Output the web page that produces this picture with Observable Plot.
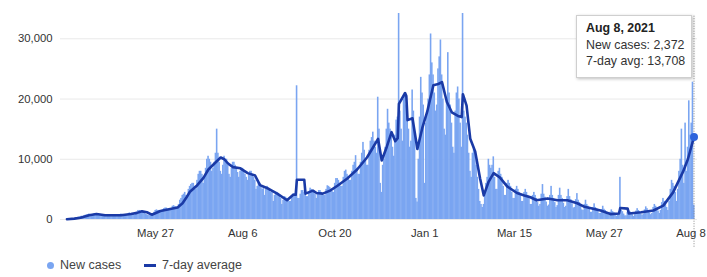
<!DOCTYPE html>
<html>
<head>
<meta charset="utf-8">
<script src="https://cdn.jsdelivr.net/npm/d3@7"></script>
<script src="https://cdn.jsdelivr.net/npm/@observablehq/plot@0.6"></script>
<style>
  html, body { margin: 0; padding: 0; background: #fff; }
  #wrap { position: relative; width: 707px; height: 277px; font-family: "Liberation Sans", Arial, sans-serif; overflow: hidden; }
  #tip { position: absolute; left: 576px; top: 15px; width: 105px; height: 55px; padding: 4px 0 2px 9px; background: #fff;
         border: 1px solid #cfcfcf; box-shadow: 1px 1px 3px rgba(0,0,0,0.25); font-size: 12.4px; line-height: 16.5px; color: #333; white-space: nowrap; }
  #tip b { color: #222; }
  #legend { position: absolute; left: 0; top: 256px; height: 18px; width: 707px; font-size: 12.5px; color: #444; }
  .lg { position: absolute; top: 0; line-height: 18px; }
  .sw-dot { position: absolute; width: 7px; height: 7px; border-radius: 50%; background: #7aa5f1; top: 5.5px; }
  .sw-line { position: absolute; width: 12px; height: 2.5px; background: #1a3aa6; top: 8px; }
</style>
</head>
<body>
<div id="wrap"></div>
<script>
// ---- data ----
const startDate = "2020-03-16";
const newCases = [
  20, 30, 50, 60, 100, 130, 150,
  200, 300, 350, 400, 500, 550, 500,
  600, 700, 750, 800, 900, 850, 700,
  700, 900, 1000, 1000, 900, 800, 700,
  600, 700, 800, 750, 700, 650, 600,
  550, 700, 800, 800, 750, 700, 650,
  600, 800, 900, 850, 800, 700, 600,
  700, 900, 1100, 1000, 1000, 900, 700,
  900, 1200, 1500, 1500, 1400, 1300, 1200,
  1000, 900, 800, 700, 700, 800, 700,
  1000, 1200, 1500, 1600, 1500, 1500, 1400,
  1300, 1600, 1800, 1900, 1900, 1700, 1600,
  1500, 1800, 2200, 2300, 2100, 2100, 2000,
  2500, 3200, 3500, 4000, 4200, 4500, 4000,
  4000, 5000, 5500, 5800, 6000, 6000, 5500,
  5000, 6500, 7500, 8000, 8000, 7500, 6000,
  7000, 8500, 10000, 10500, 10000, 9500, 8000,
  8500, 9500, 11000, 15000, 11000, 9500, 8000,
  7500, 9000, 10500, 10000, 10000, 9000, 7500,
  7000, 8500, 9500, 9500, 9000, 8500, 7800,
  7000, 8000, 8500, 8500, 8000, 7500, 7000,
  6500, 7500, 8000, 8000, 7500, 7000, 6500,
  5000, 5500, 6000, 6000, 5500, 5000, 5500,
  4000, 5000, 5500, 5000, 5000, 4500, 4500,
  3000, 4000, 4500, 4500, 4000, 3800, 3500,
  2500, 3200, 3800, 3700, 3500, 3300, 3000,
  3000, 3800, 4200, 4300, 4000, 22200, 3500,
  3500, 4200, 4800, 4800, 4500, 4200, 3800,
  3800, 4500, 5200, 5000, 4800, 4500, 4200,
  3500, 4200, 4800, 4800, 4500, 4200, 4000,
  4000, 5000, 5600, 5500, 5300, 5000, 4600,
  4500, 6000, 6800, 6800, 6500, 6000, 5500,
  5500, 7000, 8000, 8200, 7500, 7000, 6500,
  6500, 8000, 9000, 9500, 10600, 8500, 7500,
  7500, 9500, 11000, 12800, 11500, 10000, 9000,
  9000, 11500, 13000, 13600, 14500, 13000, 12000,
  11000, 20300, 15000, 6000, 4500, 9000, 10000,
  12000, 15000, 18300, 16000, 15000, 14000, 12000,
  10500, 14000, 16500, 17000, 36000, 18000, 15000,
  13000, 20000, 21000, 19000, 18000, 15000, 12000,
  13000, 21500, 18000, 14000, 3500, 2900, 10000,
  17000, 23600, 21000, 19000, 6000, 16000, 18000,
  20000, 24000, 30800, 26000, 24000, 21000, 18000,
  19000, 25000, 27000, 29800, 24000, 20000, 15000,
  14000, 20000, 27700, 21000, 19000, 16000, 12000,
  11000, 18000, 21000, 22000, 20000, 16000, 12000,
  36000, 18000, 17000, 16000, 14000, 11000, 8000,
  7000, 11000, 12000, 11000, 9000, 7000, 5000,
  3000, 2500, 2000, 2500, 4000, 6000, 7000,
  10000, 9000, 8500, 9000, 10400, 7000, 5000,
  5000, 8000, 8500, 7500, 7000, 5500, 4000,
  4000, 6000, 6500, 6000, 5500, 4500, 3500,
  3500, 5000, 5500, 5000, 4500, 4000, 3000,
  3000, 4500, 5000, 4500, 4000, 3500, 2500,
  2500, 4000, 4500, 4000, 3500, 2800, 2200,
  2500, 4200, 5800, 4200, 3700, 2900, 2200,
  2400, 4000, 5500, 4000, 3500, 2800, 2000,
  2300, 4000, 5200, 4000, 3500, 2700, 2000,
  2200, 3800, 5000, 3800, 3300, 2600, 1900,
  2000, 3300, 4300, 3200, 2800, 2200, 1600,
  1500, 2500, 3200, 2500, 2200, 1700, 1200,
  1200, 2000, 2600, 2000, 1800, 1400, 1000,
  1000, 1600, 2200, 1700, 1500, 1200, 800,
  700, 1200, 1600, 1300, 1100, 800, 500,
  800, 1300, 7000, 1500, 1300, 900, 600,
  600, 1200, 1500, 1300, 1100, 800, 500,
  800, 1400, 1800, 1500, 1300, 900, 700,
  900, 1600, 2100, 1800, 1500, 1100, 800,
  1000, 2000, 2500, 2200, 1900, 1400, 1000,
  1500, 2800, 3500, 3000, 2800, 2000, 1500,
  3000, 5000, 6500, 6000, 5500, 4500, 3000,
  5000, 8000, 10000, 15000, 9000, 6000, 16000,
  8000, 12000, 19700, 14000, 16000, 22800, 2372
];

const avgDates = [
  "2020-03-16","2020-03-22","2020-03-27","2020-04-03","2020-04-09","2020-04-16","2020-04-23","2020-04-29",
  "2020-05-07","2020-05-12","2020-05-16","2020-05-20","2020-05-24","2020-05-31","2020-06-08","2020-06-14",
  "2020-06-18","2020-06-21","2020-06-24","2020-06-30","2020-07-05","2020-07-09","2020-07-15","2020-07-19",
  "2020-07-22","2020-07-25","2020-07-29","2020-08-04","2020-08-10","2020-08-16","2020-08-20","2020-08-27",
  "2020-09-03","2020-09-11","2020-09-16","2020-09-18","2020-09-19","2020-09-25","2020-09-26","2020-10-02",
  "2020-10-05","2020-10-10","2020-10-16","2020-10-22","2020-10-30","2020-11-07","2020-11-15","2020-11-20",
  "2020-11-24","2020-11-27","2020-12-01","2020-12-05","2020-12-08","2020-12-10","2020-12-11","2020-12-16",
  "2020-12-17","2020-12-18","2020-12-22","2020-12-26","2020-12-30","2021-01-03","2021-01-08","2021-01-12",
  "2021-01-15","2021-01-19","2021-01-23","2021-01-28","2021-01-31","2021-02-01","2021-02-04","2021-02-07",
  "2021-02-11","2021-02-15","2021-02-18","2021-02-22","2021-02-26","2021-03-03","2021-03-09","2021-03-17",
  "2021-03-23","2021-03-28","2021-04-02","2021-04-11","2021-04-19","2021-04-27","2021-05-05","2021-05-11",
  "2021-05-24","2021-06-01","2021-06-08","2021-06-09","2021-06-15","2021-06-16","2021-06-26","2021-07-06",
  "2021-07-14","2021-07-22","2021-07-30","2021-08-03","2021-08-08"
];
const avgValues = [
  50, 150, 300, 700, 900, 700, 700, 700,
  900, 1100, 1350, 1200, 800, 1400, 1750, 2000,
  2700, 3600, 4600, 5700, 6900, 8300, 9500, 10300,
  10000, 9300, 8700, 8500, 7700, 7300, 5700, 5100,
  4300, 3200, 4100, 4100, 6600, 6600, 4300, 4800,
  4400, 4300, 4800, 5600, 6800, 8300, 10300, 12000,
  13400, 9800, 12000, 14500, 13000, 13500, 19200, 21000,
  20500, 16500, 16800, 11700, 15200, 17900, 22300, 22500,
  22800, 19500, 17800, 17200, 17000, 20800, 18900, 13400,
  11300, 6800, 4000, 6300, 7700, 7000, 5500, 4400,
  4000, 3700, 3200, 3500, 3200, 3200, 2700, 2100,
  1500, 900, 1000, 1900, 1800, 1000, 1200, 1500,
  2300, 4500, 7900, 10000, 13708
];

const xTickDates = ["2020-05-27","2020-08-06","2020-10-20","2021-01-01","2021-03-15","2021-05-27","2021-08-08"];
const xTickLabels = ["May 27","Aug 6","Oct 20","Jan 1","Mar 15","May 27","Aug 8"];
const yTicks = [0, 10000, 20000, 30000];
const seriesNames = ["New cases", "7-day average"];

// ---- build tables ----
const DAY = 864e5;
const t0 = Date.parse(startDate);
const daily = newCases.map((v, i) => ({date: new Date(t0 + i * DAY), cases: v}));
const avg = avgDates.map((d, i) => ({date: new Date(d), value: avgValues[i]}));
const last = daily[daily.length - 1];
const lastAvg = avg[avg.length - 1];
const xTicks = xTickDates.map((d, i) => ({date: new Date(d), label: xTickLabels[i]}));

const barColor = "#7aa5f1";
const lineColor = "#1a3aa6";
const tickFont = 11.3;

const chart = Plot.plot({
  width: 707,
  height: 250,
  marginTop: 13,
  marginBottom: 31,
  marginLeft: 60,
  marginRight: 10,
  style: {fontFamily: '"Liberation Sans", Arial, sans-serif', fontSize: tickFont + "px", color: "#333", background: "#fff", overflow: "visible"},
  x: {
    type: "utc",
    domain: [new Date("2020-03-10T17:31:00Z"), new Date("2021-08-10T19:55:00Z")],
    axis: null
  },
  y: {
    domain: [0, 34200],
    ticks: yTicks,
    tickFormat: d3.format(","),
    tickSize: 0,
    tickPadding: 8,
    label: null
  },
  marks: [
    Plot.ruleY(yTicks, {stroke: "#e9e9e9", strokeWidth: 1}),
    Plot.rectY(daily, {
      x1: d => new Date(+d.date - 0.5 * DAY),
      x2: d => new Date(+d.date + 0.5 * DAY),
      y: "cases",
      fill: barColor,
      insetRight: -0.35,
      clip: true
    }),
    Plot.ruleX([last], {x: "date", y1: () => -4600, y2: () => 34000, stroke: "#8a8a8a", strokeWidth: 1, strokeDasharray: "1,1.5"}),
    Plot.line(avg, {x: "date", y: "value", stroke: lineColor, strokeWidth: 2.6, strokeLinejoin: "round", strokeLinecap: "round"}),
    Plot.dot([lastAvg], {x: "date", y: "value", r: 4, fill: "#2d64dc", stroke: "none"}),
    // x tick labels (the last one nudged so it stays inside the window)
    Plot.text(xTicks.slice(0, -1), {x: "date", text: "label", frameAnchor: "bottom", dy: 17, fill: "#333", fontSize: tickFont}),
    Plot.text(xTicks.slice(-1), {x: "date", text: "label", frameAnchor: "bottom", dy: 17, dx: -3, fill: "#333", fontSize: tickFont})
  ]
});

const wrap = document.getElementById("wrap");
wrap.appendChild(chart);

// tooltip
const fmt = d3.format(",");
const tip = document.createElement("div");
tip.id = "tip";
tip.innerHTML = `<b>${d3.utcFormat("%b %-d, %Y")(last.date)}</b><br>New cases: ${fmt(last.cases)}<br>7-day avg: ${fmt(lastAvg.value)}`;
wrap.appendChild(tip);

// legend
const legend = document.createElement("div");
legend.id = "legend";
legend.innerHTML = `
  <span class="sw-dot" style="left:46.5px"></span><span class="lg" style="left:60px">${seriesNames[0]}</span>
  <span class="sw-line" style="left:144px"></span><span class="lg" style="left:162px">${seriesNames[1]}</span>`;
wrap.appendChild(legend);
</script>
</body>
</html>
